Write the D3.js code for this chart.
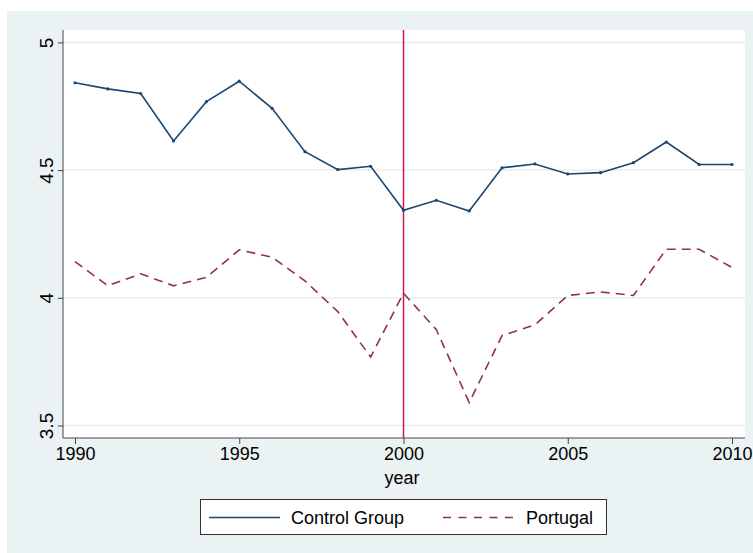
<!DOCTYPE html>
<html>
<head>
<meta charset="utf-8">
<script src="https://cdn.jsdelivr.net/npm/d3@7"></script>
<style>
  body { margin: 0; background: #ffffff; }
  text { font-family: "Liberation Sans", Arial, sans-serif; fill: #000; }
</style>
</head>
<body>
<div id="chart"></div>
<script>
/*global d3*/

var years = d3.range(1990, 2011);

var controlGroup = [4.842, 4.818, 4.800, 4.614, 4.768, 4.848, 4.742, 4.572, 4.502, 4.515,
  4.343, 4.382, 4.340, 4.509, 4.524, 4.485, 4.490, 4.529, 4.610, 4.522, 4.522];

var portugal = [4.142, 4.047, 4.094, 4.047, 4.080, 4.188, 4.159, 4.066, 3.946, 3.768,
  4.018, 3.875, 3.590, 3.852, 3.894, 4.009, 4.023, 4.009, 4.190, 4.190, 4.119];

var xTicks = [1990, 1995, 2000, 2005, 2010];
var yTicks = [3.5, 4, 4.5, 5];
var treatYear = 2000;

var seriesNames = ["Control Group", "Portugal"];

var width = 753,
  height = 553,
  plot = {left: 63, right: 745, top: 30, bottom: 438};

var svg = d3.select("#chart").append("svg")
  .attr("width", width)
  .attr("height", height);

// stata-ish outer background
svg.append("rect")
  .attr("x", 7).attr("y", 11)
  .attr("width", width - 7).attr("height", height - 11)
  .style("fill", "#eaf2f3");

svg.append("rect")
  .attr("x", plot.left).attr("y", plot.top)
  .attr("width", plot.right - plot.left).attr("height", plot.bottom - plot.top)
  .style("fill", "#ffffff");

var x = d3.scaleLinear()
  .domain([1990, 2010])
  .range([75, 732]);

var y = d3.scaleLinear()
  .domain([3.5, 5])
  .range([425.5, 42.4]);

// gridlines
svg.selectAll(".grid")
  .data(yTicks)
  .enter()
  .append("line")
  .attr("x1", plot.left).attr("x2", plot.right)
  .attr("y1", function(d){ return y(d); })
  .attr("y2", function(d){ return y(d); })
  .style("stroke", "#e6eef0")
  .style("stroke-width", 1.5);

// y axis
var yAxis = svg.append("g")
  .attr("transform", "translate(" + plot.left + ",0)")
  .call(d3.axisLeft(y).tickValues(yTicks).tickSize(5).tickFormat(d3.format("")));
yAxis.select(".domain").attr("d", "M0," + plot.top + "V" + plot.bottom).style("stroke", "#444");
yAxis.selectAll(".tick line").style("stroke", "#444");
yAxis.selectAll(".tick text")
  .attr("x", null).attr("dy", null)
  .attr("transform", "translate(-10,0) rotate(-90)")
  .attr("text-anchor", "middle")
  .style("font-size", "19px")
  .style("font-family", "Liberation Sans, Arial, sans-serif")
  .style("fill", "#000");

// x axis
var xAxis = svg.append("g")
  .attr("transform", "translate(0," + plot.bottom + ")")
  .call(d3.axisBottom(x).tickValues(xTicks).tickSize(6).tickFormat(d3.format("d")));
xAxis.select(".domain").attr("d", "M" + plot.left + ",0H" + plot.right).style("stroke", "#444");
xAxis.selectAll(".tick line").style("stroke", "#444");
xAxis.selectAll(".tick text")
  .attr("y", 9)
  .attr("dy", "0.71em")
  .style("font-size", "18px")
  .style("font-family", "Liberation Sans, Arial, sans-serif")
  .style("fill", "#000");

svg.append("text")
  .attr("x", (plot.left + plot.right) / 2 - 2)
  .attr("y", 484)
  .attr("text-anchor", "middle")
  .style("font-size", "18px")
  .text("year");

// treatment line
svg.append("line")
  .attr("x1", x(treatYear)).attr("x2", x(treatYear))
  .attr("y1", plot.top).attr("y2", plot.bottom)
  .style("stroke", "#d0174c")
  .style("stroke-width", 1.5);

var line = d3.line()
  .x(function(d){ return x(d[0]); })
  .y(function(d){ return y(d[1]); });

var controlData = years.map(function(yr, i){ return [yr, controlGroup[i]]; });
var portugalData = years.map(function(yr, i){ return [yr, portugal[i]]; });

svg.append("path")
  .datum(controlData)
  .attr("d", line)
  .style("fill", "none")
  .style("stroke", "#1a476f")
  .style("stroke-width", 1.6);

svg.selectAll(".pt")
  .data(controlData)
  .enter()
  .append("circle")
  .attr("cx", function(d){ return x(d[0]); })
  .attr("cy", function(d){ return y(d[1]); })
  .attr("r", 1.6)
  .style("fill", "#1a476f");

svg.append("path")
  .datum(portugalData)
  .attr("d", line)
  .style("fill", "none")
  .style("stroke", "#90353b")
  .style("stroke-width", 1.6)
  .style("stroke-dasharray", "9,6");

// legend
var legend = svg.append("g");
legend.append("rect")
  .attr("x", 200.5).attr("y", 499.5)
  .attr("width", 406).attr("height", 35)
  .style("fill", "#ffffff")
  .style("stroke", "#333")
  .style("stroke-width", 1);

legend.append("line")
  .attr("x1", 209).attr("x2", 280)
  .attr("y1", 517.5).attr("y2", 517.5)
  .style("stroke", "#1a476f")
  .style("stroke-width", 1.6);
legend.append("text")
  .attr("x", 291).attr("y", 524)
  .style("font-size", "18px")
  .text(seriesNames[0]);

legend.append("line")
  .attr("x1", 443).attr("x2", 514)
  .attr("y1", 517.5).attr("y2", 517.5)
  .style("stroke", "#90353b")
  .style("stroke-width", 1.6)
  .style("stroke-dasharray", "8,7.5");
legend.append("text")
  .attr("x", 526).attr("y", 524)
  .style("font-size", "18px")
  .text(seriesNames[1]);
</script>
</body>
</html>
